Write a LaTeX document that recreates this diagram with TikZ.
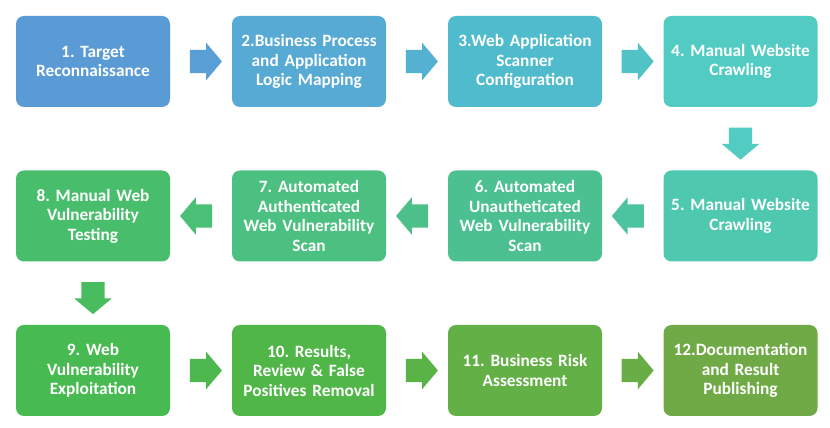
\documentclass[tikz,border=0pt]{standalone}
\usepackage{fontspec}
\setmainfont{Carlito}[BoldFont={Carlito Bold}]
\usetikzlibrary{shapes.arrows,calc}
\definecolor{c1}{RGB}{91,155,213}
\definecolor{c2}{RGB}{86,170,212}
\definecolor{c3}{RGB}{80,187,204}
\definecolor{c4}{RGB}{82,204,194}
\definecolor{c5}{RGB}{78,200,175}
\definecolor{c6}{RGB}{76,192,145}
\definecolor{c7}{RGB}{76,192,128}
\definecolor{c8}{RGB}{72,190,108}
\definecolor{c9}{RGB}{72,186,82}
\definecolor{c10}{RGB}{80,182,72}
\definecolor{c11}{RGB}{98,176,70}
\definecolor{c12}{RGB}{112,170,70}
\frenchspacing
\begin{document}
\begin{tikzpicture}[x=1pt, y=1pt,
	stage/.style={rectangle, rounded corners=8pt, minimum width=154pt, minimum height=91pt, text width=152pt, align=center, text=white, inner sep=0pt, font=\fontsize{17.3}{19.5}\selectfont\bfseries},
	blockarrow/.style={single arrow, minimum width=37pt, minimum height=32pt, single arrow head extend=7pt, single arrow tip angle=100, inner xsep=0pt, inner ysep=11.5pt},
	downarrow/.style={blockarrow, shape border rotate=270, inner xsep=11.5pt, inner ysep=0pt}]
	\useasboundingbox[fill=white] (0,0) rectangle (830,428);
	\def \xa{93} %cột
	\def \xb{309}
	\def \xc{525}
	\def \xd{740.5}
	\def \ya{366.5} %hàng
	\def \yb{212}
	\def \yc{57.5}
	% hàng 1
	\node[stage, fill=c1] (recon) at (\xa,\ya) {1. Target\\Reconnaissance};
	\node[stage, fill=c2] (mapping) at (\xb,\ya) {2.Business Process\\and Application\\Logic Mapping};
	\node[stage, fill=c3] (config) at (\xc,\ya) {3.Web Application\\Scanner\\Configuration};
	\node[stage, fill=c4] (crawlA) at (\xd,\ya) {4. Manual Website\\Crawling};
	% hàng 2
	\node[stage, fill=c5] (crawlB) at (\xd,\yb) {5. Manual Website\\Crawling};
	\node[stage, fill=c6] (unauth) at (\xc,\yb) {6. Automated\\Unautheticated\\Web Vulnerability\\Scan};
	\node[stage, fill=c7] (auth) at (\xb,\yb) {7. Automated\\Authenticated\\Web Vulnerability\\Scan};
	\node[stage, fill=c8] (manual) at (\xa,\yb) {8. Manual Web\\Vulnerability\\Testing};
	% hàng 3
	\node[stage, fill=c9] (exploit) at (\xa,\yc) {9. Web\\Vulnerability\\Exploitation};
	\node[stage, fill=c10] (review) at (\xb,\yc) {10. Results,\\Review \& False\\Positives Removal};
	\node[stage, fill=c11] (risk) at (\xc,\yc) {11. Business Risk\\Assessment};
	\node[stage, fill=c12] (publish) at (\xd,\yc) {12.Documentation\\and Result\\Publishing};
	% mũi tên
	\node[blockarrow, fill=c1!70!c2] (a12) at ($(recon.east)!0.5!(mapping.west)$) {};
	\node[blockarrow, fill=c2!60!c3] (a23) at ($(mapping.east)!0.5!(config.west)$) {};
	\node[blockarrow, fill=c3!50!c4] (a34) at ($(config.east)!0.5!(crawlA.west)$) {};
	\node[downarrow, fill=c4] (a45) at ($(crawlA.south)!0.5!(crawlB.north)$) {};
	\node[blockarrow, fill=c5!50!c6, shape border rotate=180] (a56) at ($(crawlB.west)!0.5!(unauth.east)$) {};
	\node[blockarrow, fill=c6!50!c7, shape border rotate=180] (a67) at ($(unauth.west)!0.5!(auth.east)$) {};
	\node[blockarrow, fill=c7!50!c8, shape border rotate=180] (a78) at ($(auth.west)!0.5!(manual.east)$) {};
	\node[downarrow, fill=c8!50!c9] (a89) at ($(manual.south)!0.5!(exploit.north)$) {};
	\node[blockarrow, fill=c9!50!c10] (a910) at ($(exploit.east)!0.5!(review.west)$) {};
	\node[blockarrow, fill=c10!50!c11] (a1011) at ($(review.east)!0.5!(risk.west)$) {};
	\node[blockarrow, fill=c11!50!c12] (a1112) at ($(risk.east)!0.5!(publish.west)$) {};
\end{tikzpicture}
\end{document}
